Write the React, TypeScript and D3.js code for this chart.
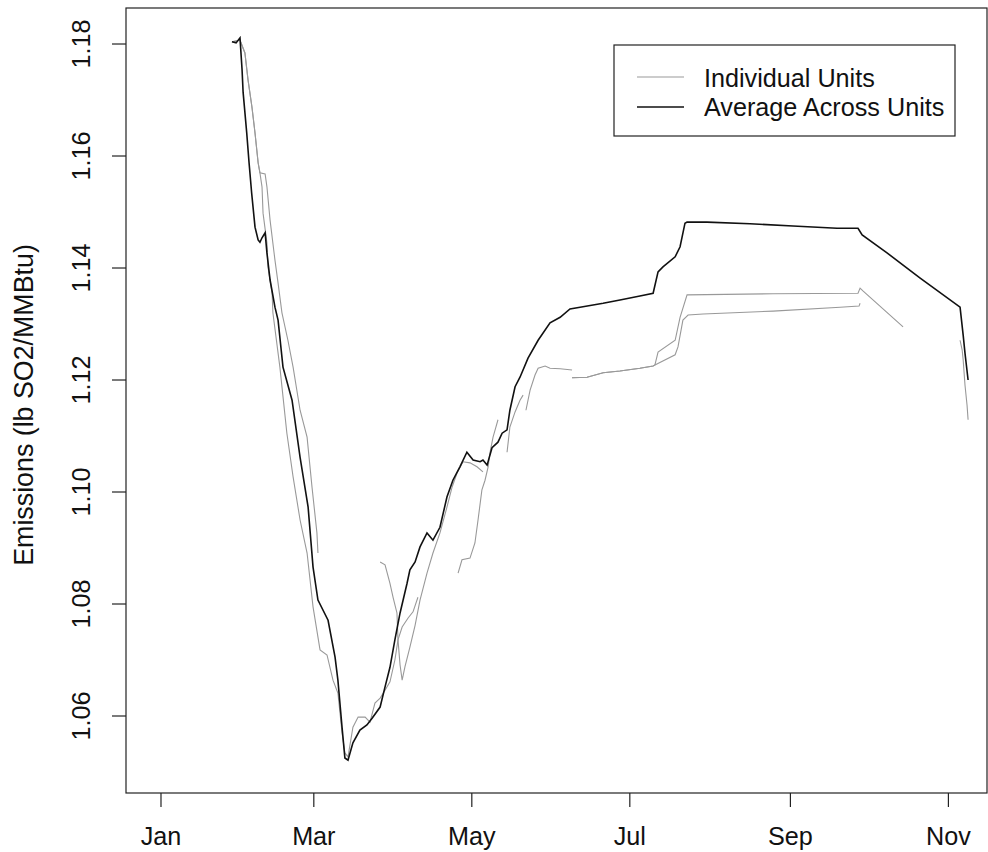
import React from "react";
import * as d3 from "d3";

// Day of year (0 = Jan 1) and emission rate (lb SO2/MMBtu)
const average: [number, number][] = [
  [27.4, 1.1804], [29.0, 1.1802], [30.5, 1.1811], [31.3, 1.1754], [31.7, 1.1714], [33.1, 1.1641],
  [34.0, 1.1588], [35.0, 1.1534], [36.3, 1.1473], [37.5, 1.145], [38.2, 1.1446], [39.0, 1.1454],
  [40.2, 1.1463], [40.9, 1.1427], [42.1, 1.1379], [44.0, 1.133], [45.2, 1.1307], [47.1, 1.1223],
  [50.6, 1.1164], [53.7, 1.1062], [56.8, 1.0973], [58.7, 1.0866], [60.6, 1.0807], [64.5, 1.0771],
  [67.2, 1.0705], [68.3, 1.0664], [69.9, 1.058], [71.0, 1.0525], [72.2, 1.0521], [74.1, 1.0552],
  [76.8, 1.0575], [79.5, 1.0584], [81.5, 1.0596], [84.6, 1.0616], [86.5, 1.0652], [88.4, 1.0687],
  [90.3, 1.0736], [92.3, 1.0784], [95.0, 1.0837], [96.1, 1.0861], [98.1, 1.0875], [100.0, 1.0902],
  [102.7, 1.0927], [105.0, 1.0914], [107.7, 1.0937], [110.4, 1.0991], [112.7, 1.1021], [115.4, 1.1045],
  [118.1, 1.1071], [120.5, 1.1057], [123.2, 1.1054], [124.3, 1.1057], [125.9, 1.1048], [127.8, 1.1079],
  [130.1, 1.1089], [131.7, 1.1105], [133.6, 1.1111], [134.7, 1.1146], [136.7, 1.1188], [138.6, 1.1205],
  [141.7, 1.1239], [145.6, 1.1271], [150.2, 1.1302], [154.1, 1.1312], [157.9, 1.1327], [161.8, 1.133],
  [170.7, 1.1337], [177.2, 1.1343], [184.9, 1.135], [190.0, 1.1355], [191.9, 1.1393], [193.8, 1.1402],
  [198.5, 1.142], [200.4, 1.1438], [202.3, 1.148], [203.1, 1.1482], [210.8, 1.1482], [227.4, 1.1479],
  [244.0, 1.1475], [261.0, 1.1471], [269.1, 1.1471], [270.7, 1.1459], [280.3, 1.1427], [293.1, 1.1382],
  [308.5, 1.133], [309.7, 1.128], [310.4, 1.1248], [311.6, 1.12],
];

const unitA: [number, number][] = [
  [27.4, 1.1804], [30.5, 1.1807], [32.4, 1.1784], [33.6, 1.1736], [35.1, 1.1688], [36.3, 1.1641],
  [37.5, 1.1588], [38.2, 1.157], [39.0, 1.1545], [39.4, 1.1498], [40.9, 1.1445], [41.3, 1.1402],
  [42.9, 1.1355], [43.2, 1.132], [45.9, 1.1223], [48.6, 1.1105], [51.0, 1.1027], [53.7, 1.095],
  [56.4, 1.0891], [58.7, 1.0795], [61.4, 1.0718], [64.1, 1.0709], [66.4, 1.0664], [68.3, 1.0641],
  [69.9, 1.057], [71.0, 1.0534], [72.2, 1.0527], [74.1, 1.058], [76.1, 1.0598], [78.8, 1.0598],
  [80.7, 1.0589], [82.6, 1.0623], [84.6, 1.0632], [86.5, 1.0646], [88.4, 1.0661], [90.3, 1.07],
  [91.5, 1.0736], [93.1, 1.0759], [95.4, 1.0775], [97.3, 1.0786], [99.2, 1.0812],
];

const unitB: [number, number][] = [
  [27.4, 1.1804], [30.5, 1.1807], [32.4, 1.1784], [33.6, 1.1736], [35.1, 1.1688], [36.3, 1.1641],
  [37.5, 1.1588], [38.2, 1.157], [40.2, 1.1568], [40.9, 1.1545], [42.1, 1.1486], [44.0, 1.1414],
  [45.2, 1.1373], [46.7, 1.132], [49.0, 1.1271], [51.0, 1.1223], [53.7, 1.1146], [56.4, 1.1098],
  [58.3, 1.1009], [60.2, 1.0927], [60.6, 1.0891],
];

const unitC: [number, number][] = [
  [84.6, 1.0875], [86.5, 1.087], [88.4, 1.0837], [89.6, 1.0812], [91.1, 1.0784], [91.5, 1.0736],
  [92.3, 1.0691], [93.1, 1.0664], [94.2, 1.0688], [96.1, 1.0723], [98.1, 1.0762], [100.0, 1.0807],
  [102.7, 1.0855], [105.0, 1.0891], [107.7, 1.0927], [110.4, 1.0973], [112.4, 1.1009], [114.3, 1.1034],
  [116.6, 1.1054], [119.3, 1.1052], [122.0, 1.1045], [124.3, 1.1036],
];

const unitD: [number, number][] = [
  [114.7, 1.0855], [116.2, 1.0879], [119.3, 1.0882], [121.2, 1.0909], [122.4, 1.095], [123.9, 1.1004],
  [125.1, 1.1021], [126.3, 1.1045], [127.0, 1.107], [128.2, 1.1098], [129.3, 1.1116], [130.1, 1.1129],
];

const unitE: [number, number][] = [
  [133.6, 1.1071], [134.7, 1.1116], [136.7, 1.1143], [138.6, 1.1164], [139.8, 1.1173],
];

const unitF: [number, number][] = [
  [140.9, 1.1146], [142.5, 1.1182], [144.4, 1.1209], [145.6, 1.1221], [148.3, 1.1225], [150.2, 1.1221],
  [154.1, 1.122], [158.7, 1.1218],
];

const unitG: [number, number][] = [
  [158.7, 1.1204], [164.5, 1.1205], [170.7, 1.1213], [177.2, 1.1216], [184.9, 1.1221], [190.0, 1.1225],
  [190.7, 1.1227], [191.9, 1.125], [198.5, 1.1271], [200.4, 1.1312], [203.1, 1.1352], [236.3, 1.1354],
  [269.1, 1.1355], [269.9, 1.1364], [271.0, 1.1359], [286.5, 1.1295],
];

const unitH: [number, number][] = [
  [158.7, 1.1204], [164.5, 1.1205], [170.7, 1.1213], [177.2, 1.1216], [184.9, 1.1221], [190.0, 1.1225],
  [190.7, 1.1227], [198.5, 1.1245], [199.6, 1.1259], [201.5, 1.1307], [203.5, 1.1316], [209.3, 1.1318],
  [236.3, 1.1323], [262.2, 1.133], [269.5, 1.1332], [269.9, 1.1337],
];

const unitI: [number, number][] = [
  [308.5, 1.1271], [309.3, 1.1254], [309.7, 1.1236], [310.4, 1.1191], [311.2, 1.1155], [311.6, 1.1129],
];

const units = [unitA, unitB, unitC, unitD, unitE, unitF, unitG, unitH, unitI];

const yTicks = [1.06, 1.08, 1.1, 1.12, 1.14, 1.16, 1.18];
const legendLabels = ["Individual Units", "Average Across Units"];
const yLabel = "Emissions (lb SO2/MMBtu)";

const YEAR_START = Date.UTC(2013, 0, 1);
const DAY = 864e5;
const toDate = (d: number) => new Date(YEAR_START + d * DAY);

const W = 988;
const H = 852;
const M = { left: 126, right: 987, top: 8, bottom: 793 };
const FONT = "'Liberation Sans', Arial, sans-serif";
const FS = 25.2;

export default function App() {
  const x = d3.scaleUtc().domain([toDate(-13.51), toDate(318.9)]).range([M.left, M.right]);
  const y = d3.scaleLinear().domain([1.04625, 1.18643]).range([M.bottom, M.top]);
  const line = d3
    .line<[number, number]>()
    .x((d) => x(toDate(d[0])))
    .y((d) => y(d[1]));
  const xTicks = d3.utcMonth.every(2)!.range(toDate(-1), toDate(318.9));
  const fmt = d3.utcFormat("%b");

  const lx0 = 637, lx1 = 684;
  return (
    <svg
      width={W}
      height={H}
      style={{ position: "fixed", left: 0, top: 0, background: "#fff" }}
      fontFamily={FONT}
    >
      <rect x={0} y={0} width={W} height={H} fill="#fff" />
      {units.map((u, i) => (
        <path key={i} d={line(u) || ""} fill="none" stroke="#999" strokeWidth={1.1} />
      ))}
      <path d={line(average) || ""} fill="none" stroke="#111" strokeWidth={1.6} />

      <rect
        x={M.left}
        y={M.top}
        width={M.right - M.left}
        height={M.bottom - M.top}
        fill="none"
        stroke="#222"
        strokeWidth={1.2}
      />

      {xTicks.map((t, i) => (
        <g key={i} transform={`translate(${x(t)},0)`}>
          <line y1={M.bottom} y2={M.bottom + 14} stroke="#222" strokeWidth={1.2} />
          <text y={845} textAnchor="middle" fontSize={FS} fill="#111">
            {fmt(t)}
          </text>
        </g>
      ))}

      {yTicks.map((t, i) => (
        <g key={i} transform={`translate(0,${y(t)})`}>
          <line x1={M.left - 14} x2={M.left} stroke="#222" strokeWidth={1.2} />
          <text transform="translate(90,0) rotate(-90)" textAnchor="middle" fontSize={FS} fill="#111">
            {t.toFixed(2)}
          </text>
        </g>
      ))}

      <text
        transform={`translate(33,405) rotate(-90)`}
        textAnchor="middle"
        fontSize={26.8}
        fill="#111"
      >
        {yLabel}
      </text>

      <rect x={614} y={45} width={341} height={91} fill="#fff" stroke="#222" strokeWidth={1.2} />
      <line x1={lx0} x2={lx1} y1={77} y2={77} stroke="#999" strokeWidth={1.1} />
      <line x1={lx0} x2={lx1} y1={107} y2={107} stroke="#111" strokeWidth={1.6} />
      <text x={704} y={86.5} fontSize={FS} fill="#111">
        {legendLabels[0]}
      </text>
      <text x={704} y={116} fontSize={FS} fill="#111">
        {legendLabels[1]}
      </text>
    </svg>
  );
}
